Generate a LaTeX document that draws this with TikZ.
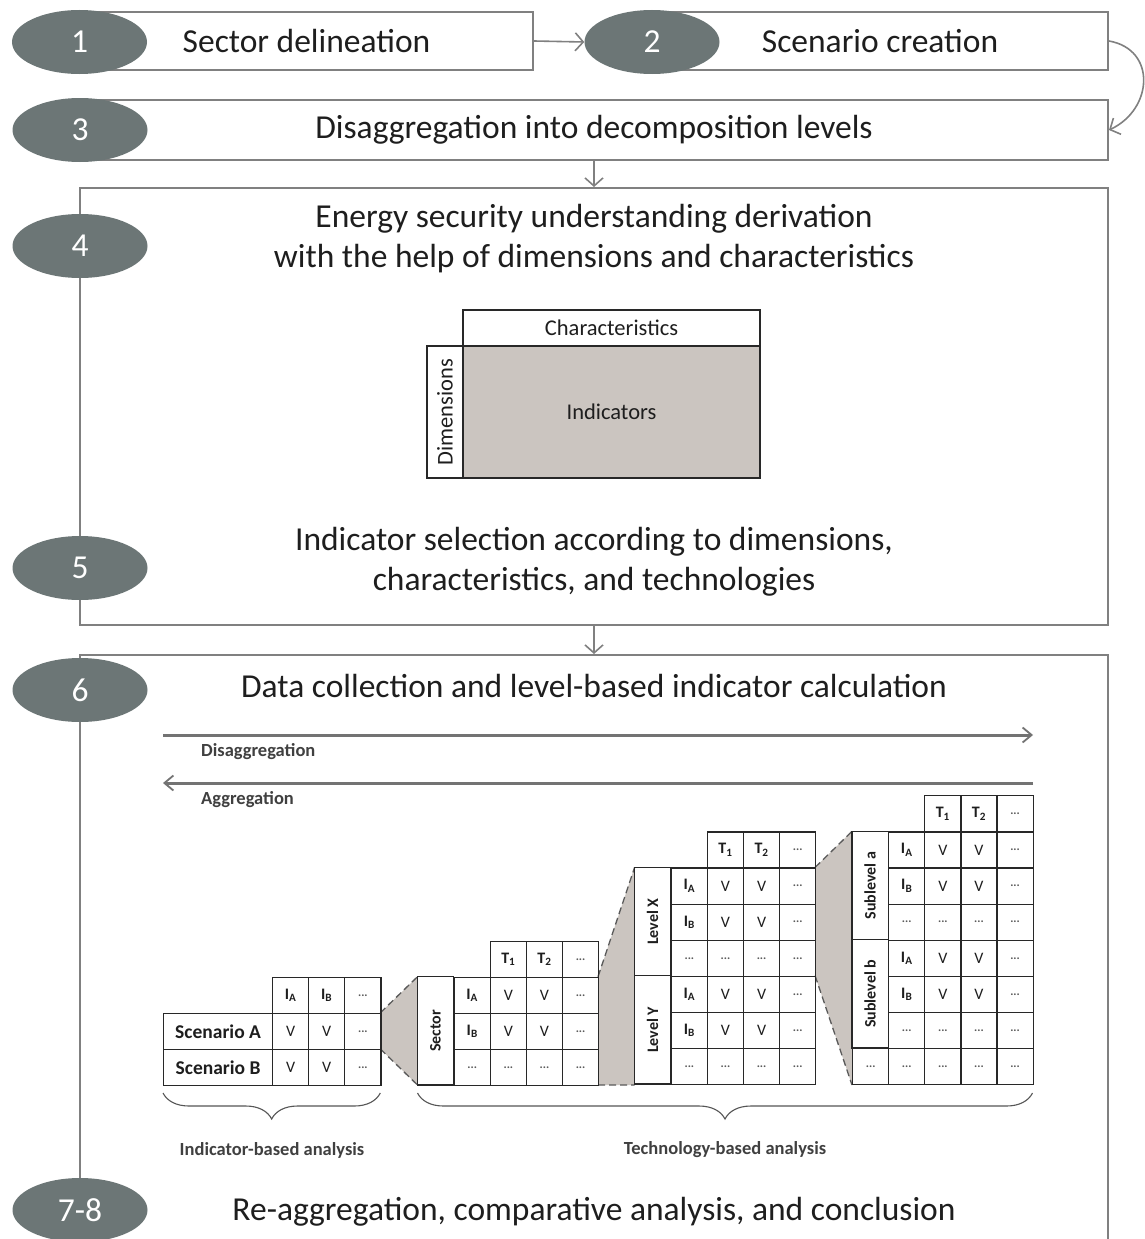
\documentclass[tikz,border=0pt]{standalone}
\usepackage{fontspec}
\setmainfont{Carlito}
\usetikzlibrary{arrows.meta,shapes.geometric,decorations.pathreplacing}

\definecolor{badgegray}{RGB}{108,118,118}
\definecolor{framegray}{RGB}{128,128,128}
\definecolor{funnelgray}{RGB}{203,197,192}
\definecolor{ink}{RGB}{30,30,30}
\definecolor{gridline}{RGB}{40,40,40}
\definecolor{dotgray}{RGB}{90,90,90}

% cell contents
\newcommand{\indA}{\textbf{I}\textsubscript{\textbf{A}}}
\newcommand{\indB}{\textbf{I}\textsubscript{\textbf{B}}}
\newcommand{\techA}{\textbf{T}\textsubscript{\textbf{1}}}
\newcommand{\techB}{\textbf{T}\textsubscript{\textbf{2}}}
\newcommand{\mydots}{{\color{dotgray}\bfseries\fontsize{12}{12}\selectfont ...}}

\tikzset{
  headtext/.style={font=\fontsize{33.5}{40}\selectfont, text=ink, align=center},
  stepbox/.style={draw=framegray, line width=2pt, fill=white, inner sep=0pt, headtext},
  badge/.style={ellipse, fill=badgegray, text=white, inner sep=0pt,
    minimum width=135pt, minimum height=64pt, font=\fontsize{33.5}{40}\selectfont},
  flow/.style={draw=framegray, line width=1.6pt,
    -{Straight Barb[length=8pt,width=18pt,line width=1.6pt]}},
  wide/.style={draw=framegray!90!black, line width=3pt,
    -{Straight Barb[length=9pt,width=15pt,line width=1.8pt]}},
  tag/.style={font=\bfseries\fontsize{18.5}{21}\selectfont, text=ink!85, inner sep=0pt},
  cell/.style={draw=gridline, line width=1.2pt, minimum width=36.1pt, minimum height=36.1pt,
    inner sep=0pt, anchor=north west, font=\fontsize{16}{18}\selectfont, text=ink},
  vlabel/.style={cell, rotate=90, anchor=center, minimum width=108.3pt,
    font=\bfseries\fontsize{16}{18}\selectfont},
  matcell/.style={draw=gridline, line width=1.2pt, inner sep=0pt,
    font=\fontsize{22.5}{26}\selectfont, text=ink},
  funnelline/.style={draw=dotgray, line width=1.3pt, dash pattern=on 7pt off 4pt},
  curly/.style={draw=ink!75, line width=1.1pt, decorate,
    decoration={brace, mirror, amplitude=26pt}},
}

% one table row: indicator cell, two value cells, one trailing cell
\newcommand{\datarow}[5]{%
  \node[cell] (#1-i) at (#2,#3) {#4};
  \node[cell] (#1-a) at (#2+36.1,#3) {#5};
  \node[cell] (#1-b) at (#2+72.2,#3) {#5};
  \node[cell] (#1-c) at (#2+108.3,#3) {\mydots};
}
% technology header row over the three value columns
\newcommand{\techrow}[3]{%
  \node[cell] (#1-t1) at (#2,#3) {\techA};
  \node[cell] (#1-t2) at (#2+36.1,#3) {\techB};
  \node[cell] (#1-t3) at (#2+72.2,#3) {\mydots};
}

\begin{document}
\begin{tikzpicture}[x=1pt,y=-1pt]
\useasboundingbox (0,0) rectangle (1145,1239);
\clip (0,0) rectangle (1145,1239);

% ---- step boxes ----
\node[stepbox, minimum width=453pt, minimum height=58pt] (b1) at (306.5,41) {Sector delineation};
\node[stepbox, minimum width=456pt, minimum height=58pt] (b2) at (880,41) {Scenario creation};
\node[stepbox, minimum width=1028pt, minimum height=60pt] (b3) at (594,130) {Disaggregation into decomposition levels};
\node[stepbox, minimum width=1028pt, minimum height=437pt] (b45) at (594,406.5) {};
\node[stepbox, minimum width=1028pt, minimum height=620pt] (b6) at (594,965) {};

\node[headtext] (t4) at (594,239) {Energy security understanding derivation\\with the help of dimensions and characteristics};
\node[headtext] (t5) at (594,562) {Indicator selection according to dimensions,\\characteristics, and technologies};
\node[headtext] (t6) at (594,686) {Data collection and level-based indicator calculation};
\node[headtext] (t78) at (594,1212) {Re-aggregation, comparative analysis, and conclusion};

% ---- step badges ----
\node[badge] (e1) at (79.5,42) {1};
\node[badge] (e2) at (652,42) {2};
\node[badge] (e3) at (80,130) {3};
\node[badge] (e4) at (80,246) {4};
\node[badge] (e5) at (80,568) {5};
\node[badge] (e6) at (80,690) {6};
\node[badge] (e78) at (80,1210) {7-8};

% ---- flow between steps ----
\draw[flow] (b1.east) -- (e2.west);
\draw[flow] (b2.east) to[out=-10,in=25,looseness=1.4] (b3.east);
\draw[flow] (b3.south) -- (b45.north);
\draw[flow] (b45.south) -- (b6.north);

% ---- dimensions / characteristics matrix ----
\node[matcell, minimum width=297pt, minimum height=36pt] (chars) at (611.5,328) {Characteristics};
\node[matcell, fill=funnelgray, minimum width=297pt, minimum height=132pt] (inds) at (611.5,412) {Indicators};
\node[matcell, rotate=90, minimum width=132pt, minimum height=36pt] (dims) at (445,412) {Dimensions};

% ---- aggregation direction arrows ----
\coordinate (dis-s) at (163,735);
\coordinate (dis-e) at (1033,735);
\coordinate (agg-s) at (1033,783);
\coordinate (agg-e) at (163,783);
\draw[wide] (dis-s) -- (dis-e);
\draw[wide] (agg-s) -- (agg-e);
\node[tag, anchor=west] (lab-dis) at (201,752) {Disaggregation};
\node[tag, anchor=west] (lab-agg) at (201,800) {Aggregation};

% ---- funnels linking the tables ----
\fill[funnelgray] (380.3,1012.8) -- (417.5,976.7) -- (417.5,1085) -- (380.3,1048.9) -- cycle;
\draw[funnelline] (380.3,1012.8) -- (417.5,976.7) (380.3,1048.9) -- (417.5,1085);
\fill[funnelgray] (598,976.7) -- (634.6,867.4) -- (634.6,1085) -- (598,1085) -- cycle;
\draw[funnelline] (598,976.7) -- (634.6,867.4) (598,1085) -- (634.6,1085);
\fill[funnelgray] (815.1,867.4) -- (852,831.3) -- (852,1085) -- (815.1,975.7) -- cycle;
\draw[funnelline] (815.1,867.4) -- (852,831.3) (815.1,975.7) -- (852,1085);

% ---- scenario table ----
\node[cell] (sc-h1) at (272,976.7) {\indA};
\node[cell] (sc-h2) at (308.1,976.7) {\indB};
\node[cell] (sc-h3) at (344.2,976.7) {\mydots};
\node[cell, minimum width=109pt, font=\bfseries\fontsize{19.5}{22}\selectfont] (scA) at (163,1012.8) {Scenario A};
\node[cell] (scA-1) at (272,1012.8) {V};
\node[cell] (scA-2) at (308.1,1012.8) {V};
\node[cell] (scA-3) at (344.2,1012.8) {\mydots};
\node[cell, minimum width=109pt, font=\bfseries\fontsize{19.5}{22}\selectfont] (scB) at (163,1048.9) {Scenario B};
\node[cell] (scB-1) at (272,1048.9) {V};
\node[cell] (scB-2) at (308.1,1048.9) {V};
\node[cell] (scB-3) at (344.2,1048.9) {\mydots};

% ---- sector table ----
\techrow{sec}{489.7}{940.6}
\datarow{sec1}{453.6}{976.7}{\indA}{V}
\datarow{sec2}{453.6}{1012.8}{\indB}{V}
\datarow{sec3}{453.6}{1048.9}{\mydots}{\mydots}
\node[vlabel] (sec-l) at (435.55,1030.85) {Sector};

% ---- level table ----
\techrow{lev}{706.8}{831.3}
\datarow{lev1}{670.7}{867.4}{\indA}{V}
\datarow{lev2}{670.7}{903.5}{\indB}{V}
\datarow{lev3}{670.7}{939.6}{\mydots}{\mydots}
\datarow{lev4}{670.7}{975.7}{\indA}{V}
\datarow{lev5}{670.7}{1011.8}{\indB}{V}
\datarow{lev6}{670.7}{1047.9}{\mydots}{\mydots}
\node[vlabel] (lev-x) at (652.65,921.55) {Level X};
\node[vlabel] (lev-y) at (652.65,1029.85) {Level Y};

% ---- sublevel table ----
\techrow{sub}{924.2}{795.2}
\datarow{sub1}{888.1}{831.3}{\indA}{V}
\datarow{sub2}{888.1}{867.4}{\indB}{V}
\datarow{sub3}{888.1}{903.5}{\mydots}{\mydots}
\datarow{sub4}{888.1}{939.6}{\indA}{V}
\datarow{sub5}{888.1}{975.7}{\indB}{V}
\datarow{sub6}{888.1}{1011.8}{\mydots}{\mydots}
\datarow{sub7}{888.1}{1047.9}{\mydots}{\mydots}
\node[cell] (sub7-l) at (852,1047.9) {\mydots};
\node[vlabel] (sub-a) at (870.05,885.45) {Sublevel a};
\node[vlabel] (sub-b) at (870.05,993.75) {Sublevel b};

% ---- analysis braces ----
\coordinate (br1-s) at (163,1093);
\coordinate (br1-e) at (380.3,1093);
\coordinate (br2-s) at (417.5,1093);
\coordinate (br2-e) at (1032.5,1093);
\draw[curly] (br1-s) -- (br1-e);
\draw[curly] (br2-s) -- (br2-e);
\node[tag] (lab-ind) at (272,1150) {Indicator-based analysis};
\node[tag] (lab-tech) at (725,1150) {Technology-based analysis};
\end{tikzpicture}
\end{document}
